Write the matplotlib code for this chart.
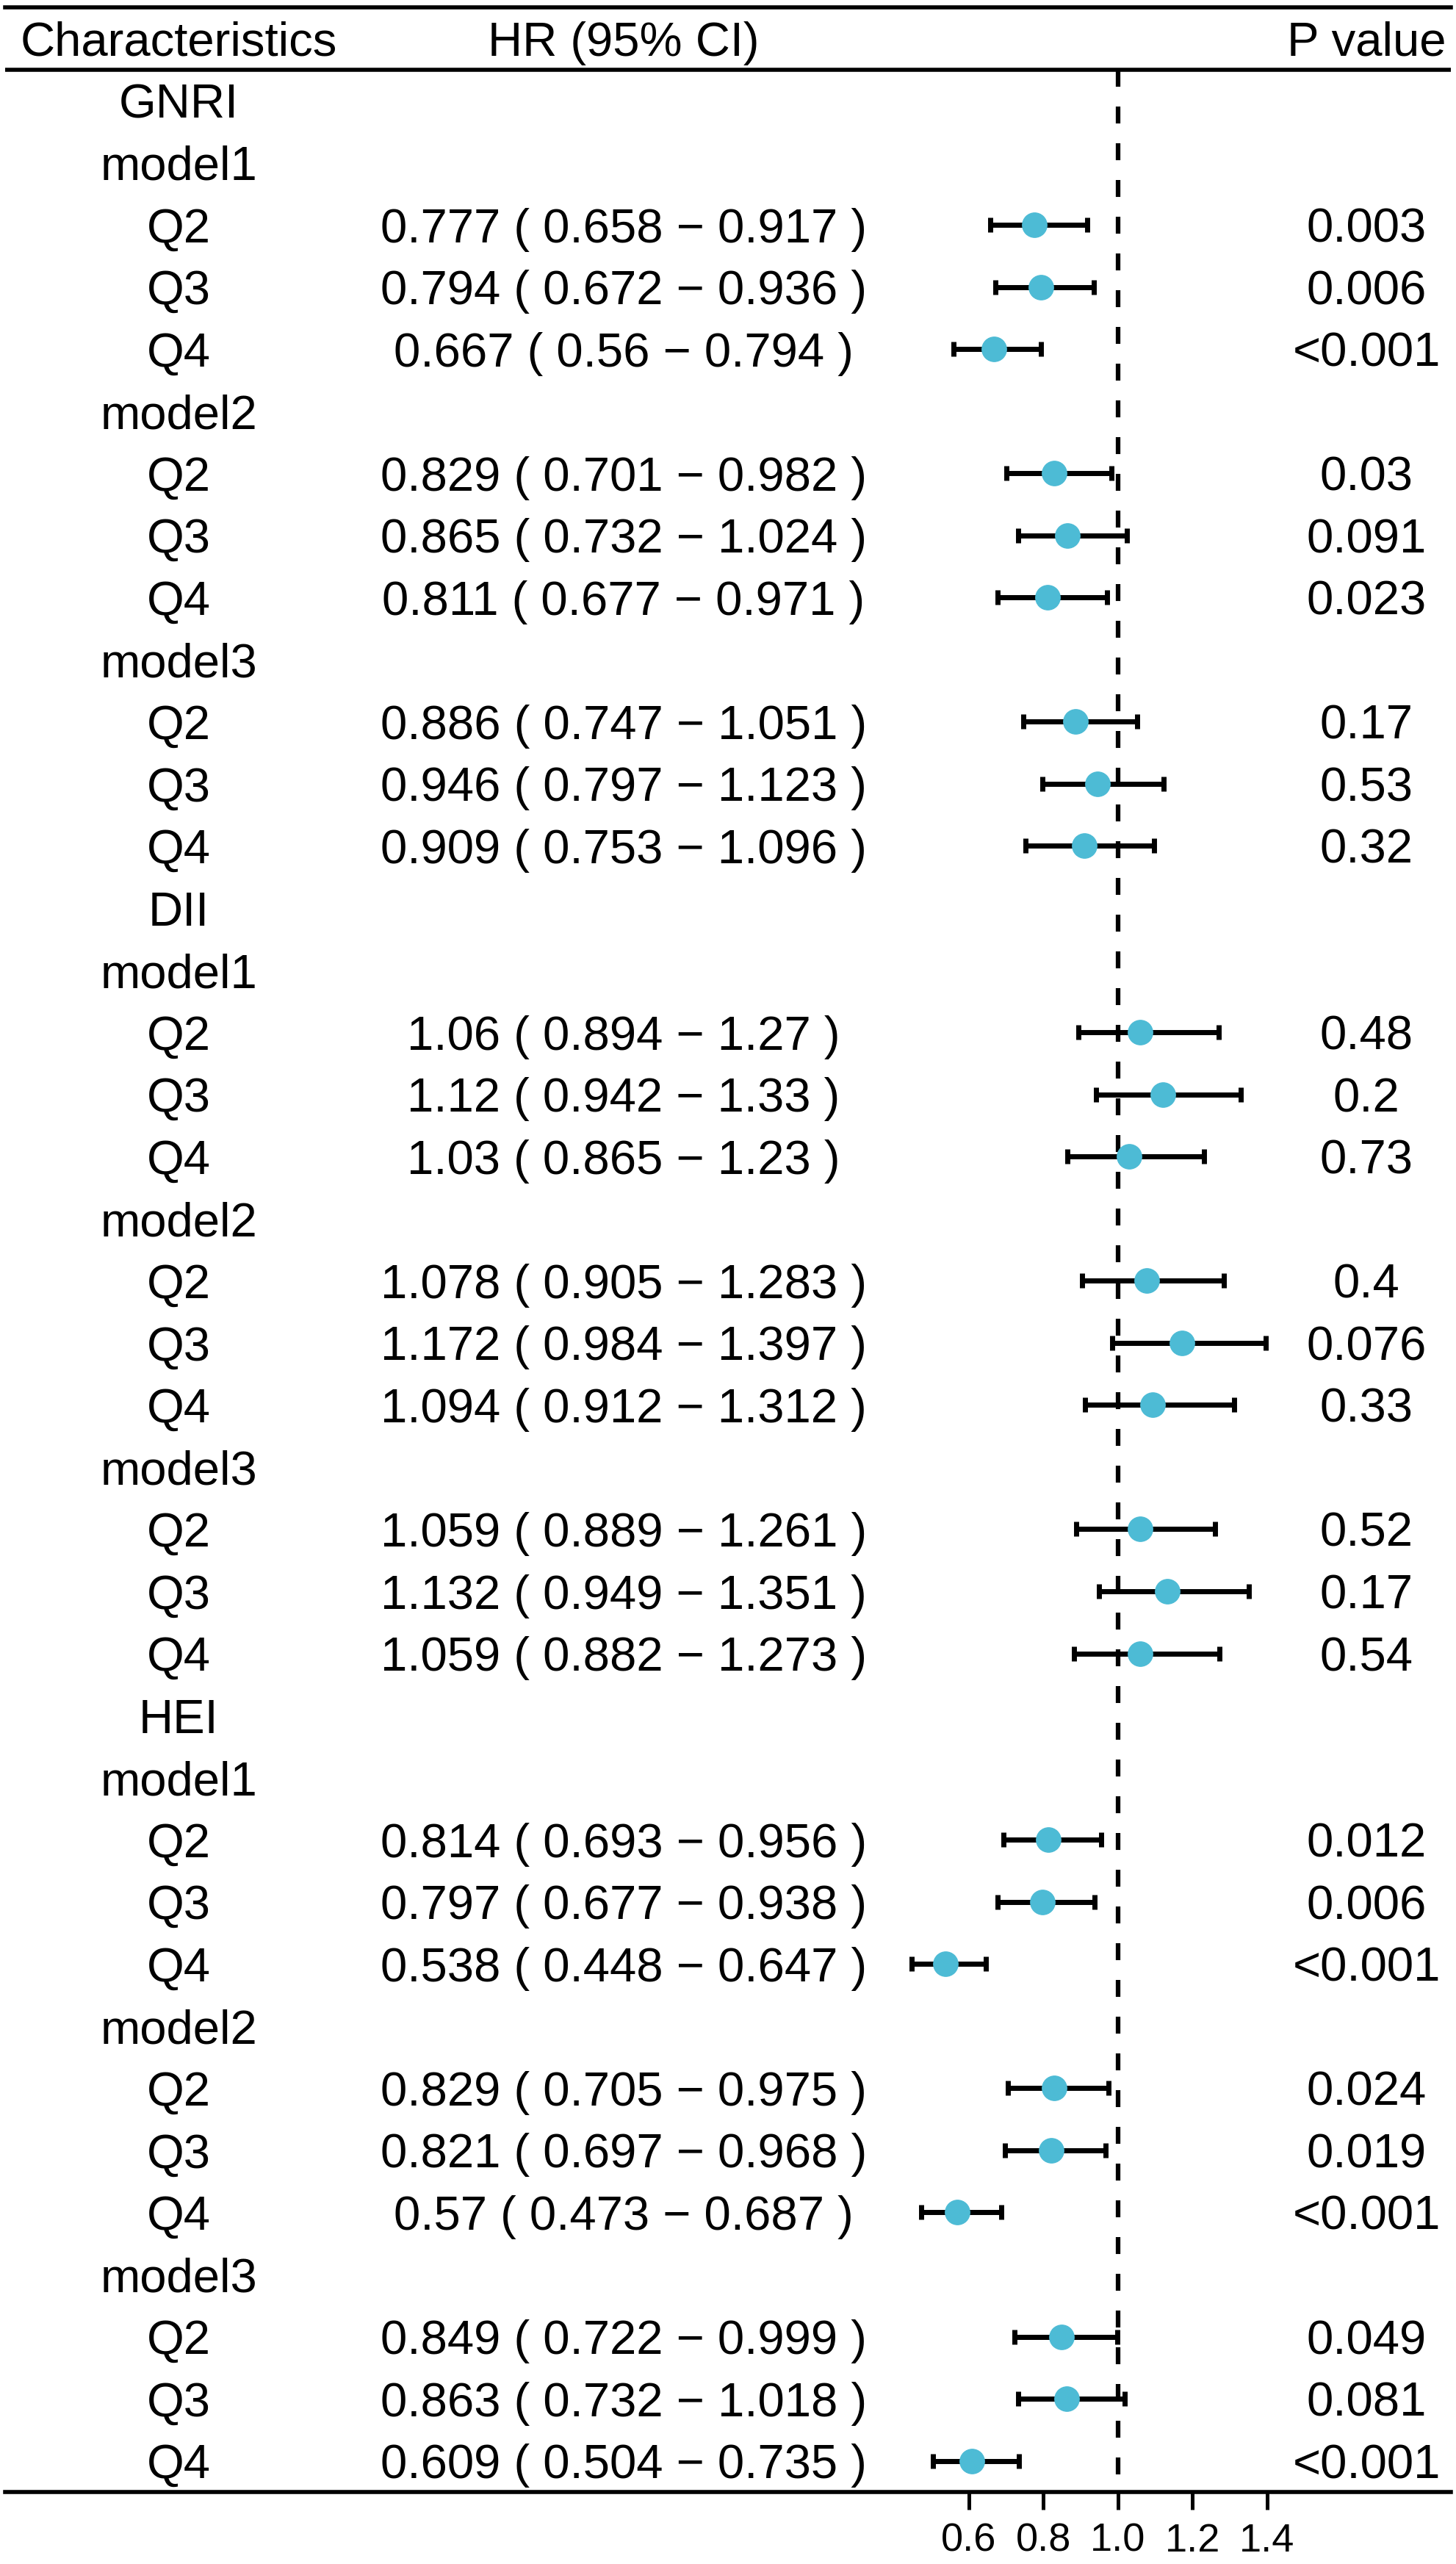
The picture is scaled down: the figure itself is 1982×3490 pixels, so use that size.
import numpy as np
import matplotlib
matplotlib.use('Agg')
import matplotlib.pyplot as plt
import matplotlib.transforms as mtransforms

plt.rcParams['font.family'] = ['Liberation Sans', 'DejaVu Sans']
plt.rcParams['lines.scale_dashes'] = False

# dados
exposures = ['GNRI', 'DII', 'HEI']
models = ['model1', 'model2', 'model3']
quartiles = ['Q2', 'Q3', 'Q4']

hr = [0.777, 0.794, 0.667, 0.829, 0.865, 0.811, 0.886, 0.946, 0.909,
      1.06, 1.12, 1.03, 1.078, 1.172, 1.094, 1.059, 1.132, 1.059,
      0.814, 0.797, 0.538, 0.829, 0.821, 0.57, 0.849, 0.863, 0.609]
hr_low = [0.658, 0.672, 0.56, 0.701, 0.732, 0.677, 0.747, 0.797, 0.753,
          0.894, 0.942, 0.865, 0.905, 0.984, 0.912, 0.889, 0.949, 0.882,
          0.693, 0.677, 0.448, 0.705, 0.697, 0.473, 0.722, 0.732, 0.504]
hr_high = [0.917, 0.936, 0.794, 0.982, 1.024, 0.971, 1.051, 1.123, 1.096,
           1.27, 1.33, 1.23, 1.283, 1.397, 1.312, 1.261, 1.351, 1.273,
           0.956, 0.938, 0.647, 0.975, 0.968, 0.687, 0.999, 1.018, 0.735]
p_values = ['0.003', '0.006', '<0.001', '0.03', '0.091', '0.023', '0.17', '0.53', '0.32',
            '0.48', '0.2', '0.73', '0.4', '0.076', '0.33', '0.52', '0.17', '0.54',
            '0.012', '0.006', '<0.001', '0.024', '0.019', '<0.001', '0.049', '0.081', '<0.001']

x_ticks = [0.6, 0.8, 1.0, 1.2, 1.4]
x_tick_labels = ['0.6', '0.8', '1.0', '1.2', '1.4']

ponto_cor = '#4DBBD5'
FS = 47

# montar as linhas da tabela
label_rows = []
est_rows = []
est_idx = []
row = 0
for i, e in enumerate(exposures):
    label_rows.append((row, e))
    row += 1
    for j, m in enumerate(models):
        label_rows.append((row, m))
        row += 1
        for k, q in enumerate(quartiles):
            label_rows.append((row, q))
            est_rows.append(row)
            est_idx.append(i * 9 + j * 3 + k)
            row += 1
n_rows = row

hr_a = np.array(hr)
lo_a = np.array(hr_low)
hi_a = np.array(hr_high)

fig = plt.figure(figsize=(19.83, 34.90), dpi=100)
ax = fig.add_axes([0.0035, 0.0281, 0.9924, 0.9690])
ax.set_xlim(-1.982, 1.892)
ax.set_ylim(n_rows - 0.5, -1.5)

trans = mtransforms.blended_transform_factory(ax.transAxes, ax.transData)
col_label, col_hr, col_p = 0.12, 0.4278, 0.9416

# cabeçalho
ax.text(col_label, -1, 'Characteristics', transform=trans, ha='center', va='center_baseline', fontsize=FS)
ax.text(col_hr, -1, 'HR (95% CI)', transform=trans, ha='center', va='center_baseline', fontsize=FS)
ax.text(col_p, -1, 'P value', transform=trans, ha='center', va='center_baseline', fontsize=FS)
ax.axhline(-0.5, color='black', lw=4)

for r, txt in label_rows:
    ax.text(col_label, r, txt, transform=trans, ha='center', va='center_baseline', fontsize=FS)

for r, n in zip(est_rows, est_idx):
    hr_txt = f"{hr[n]:g} ( {hr_low[n]:g} \u2212 {hr_high[n]:g} )"
    ax.text(col_hr, r, hr_txt, transform=trans, ha='center', va='center_baseline', fontsize=FS)
    ax.text(col_p, r, p_values[n], transform=trans, ha='center', va='center_baseline', fontsize=FS)

# linha de referência
ax.vlines(1.0, -0.5, n_rows - 0.5, colors='black', lw=4.5,
          linestyles=[(0, (16.6, 19.4))], zorder=1)

sel = np.array(est_idx)
ax.errorbar(hr_a[sel], est_rows, xerr=[hr_a[sel] - lo_a[sel], hi_a[sel] - hr_a[sel]],
            fmt='o', ms=24, mfc=ponto_cor, mec=ponto_cor, ecolor='black',
            elinewidth=5, capsize=7.2, capthick=5, zorder=3)

for s in ['left', 'right']:
    ax.spines[s].set_visible(False)
ax.spines['top'].set_linewidth(4)
ax.spines['bottom'].set_linewidth(4)
ax.set_yticks([])
ax.set_xticks(x_ticks)
ax.set_xticklabels(x_tick_labels)
ax.tick_params(axis='x', length=17, width=3.6, pad=13, labelsize=39)

fig.savefig('out.png', dpi=100)
